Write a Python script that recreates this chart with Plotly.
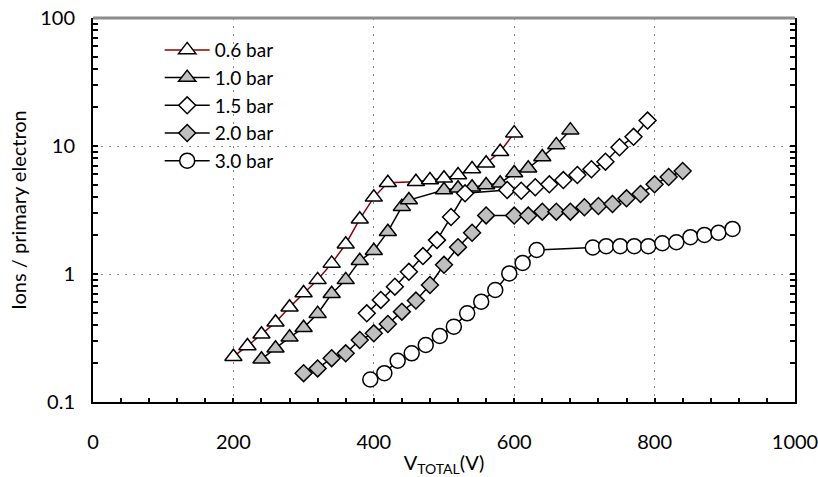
import plotly.graph_objects as go

# Voltage (V) and ions per primary electron for each gas pressure
v_06 = [200, 220, 240, 260, 280, 300, 320, 340, 360, 380, 400, 420,
        460, 480, 500, 520, 540, 560, 580, 600]
g_06 = [0.226, 0.274, 0.338, 0.42, 0.55, 0.71, 0.90, 1.21, 1.71, 2.68, 3.97, 5.17,
        5.26, 5.42, 5.59, 5.94, 6.61, 7.33, 9.02, 12.6]

v_10 = [240, 260, 280, 300, 320, 340, 360, 380, 400, 420, 440, 450,
        500, 520, 540, 560, 580, 600, 620, 640, 660, 680]
g_10 = [0.216, 0.263, 0.32, 0.38, 0.49, 0.70, 0.90, 1.27, 1.52, 2.14, 3.36, 3.78,
        4.53, 4.67, 4.76, 4.96, 5.11, 6.16, 6.7, 8.2, 10.2, 13.3]

v_15 = [390, 410, 430, 450, 470, 490, 510, 530,
        590, 610, 630, 650, 670, 690, 710, 730, 750, 770, 790]
g_15 = [0.493, 0.627, 0.796, 1.04, 1.38, 1.84, 2.79, 4.27,
        4.53, 4.47, 4.76, 5.02, 5.42, 5.94, 6.58, 7.54, 9.77, 11.8, 15.8]

v_20 = [300, 320, 340, 360, 380, 400, 420, 440, 460, 480, 500, 520, 540, 560,
        600, 620, 640, 660, 680, 700, 720, 740, 760, 780, 800, 820, 840]
g_20 = [0.168, 0.183, 0.22, 0.24, 0.305, 0.344, 0.407, 0.508, 0.62, 0.82, 1.18, 1.62, 2.1, 2.87,
        2.86, 2.86, 3.07, 3.07, 3.07, 3.32, 3.40, 3.52, 3.90, 4.22, 5.02, 5.73, 6.38]

v_30 = [395, 415, 434, 454, 474, 494, 514, 533, 553, 573, 593, 612, 632,
        712, 731, 751, 771, 791, 811, 831, 851, 871, 891, 911]
g_30 = [0.150, 0.168, 0.21, 0.24, 0.279, 0.328, 0.388, 0.493, 0.608, 0.75, 1.01, 1.22, 1.54,
        1.61, 1.65, 1.65, 1.65, 1.65, 1.74, 1.77, 1.94, 2.02, 2.10, 2.25]

labels = ["0.6 bar", "1.0 bar", "1.5 bar", "2.0 bar", "3.0 bar"]
x_ticks = [0, 200, 400, 600, 800, 1000]
y_ticks = [0.1, 1, 10, 100]
y_ticktext = ["0.1", "1", "10", "100"]

FONT = "Lato"
FS = 20
GRAY = "#bfbfbf"

series = [
    (v_06, g_06, "triangle-up", "white", "#8b0000", 15),
    (v_10, g_10, "triangle-up", GRAY, "black", 15),
    (v_15, g_15, "diamond", "white", "black", 13),
    (v_20, g_20, "diamond", GRAY, "black", 13),
    (v_30, g_30, "circle", "white", "black", 15),
]

fig = go.Figure()
for i, (vx, gy, sym, fill, lc, ms) in enumerate(series):
    fig.add_trace(go.Scatter(
        x=vx, y=gy, name=labels[i], legendgroup=labels[i],
        mode="lines+markers",
        line=dict(color=lc, width=1.5),
        marker=dict(symbol=sym, size=ms, color=fill,
                    line=dict(color="black", width=1.5)),
    ))

fig.update_layout(
    width=818, height=477,
    margin=dict(l=93, r=23, t=18, b=75, autoexpand=False),
    paper_bgcolor="white", plot_bgcolor="white",
    font=dict(family=FONT, size=FS, color="black"),
    showlegend=True,
    legend=dict(x=0.095, y=0.966, xanchor="left", yanchor="top",
                bgcolor="rgba(0,0,0,0)", tracegroupgap=0, itemwidth=45,
                font=dict(family=FONT, size=19)),
    xaxis=dict(
        range=[0, 1000], tickvals=x_ticks, automargin=False,
        ticklabeloverflow="allow",
        ticks="inside", ticklen=4, tickwidth=1.5, tickcolor="black",
        minor=dict(dtick=40, ticks="inside", ticklen=4, tickwidth=1.5,
                   tickcolor="black", showgrid=False),
        showgrid=True, gridcolor="#8c8c8c", gridwidth=1, griddash="2px,6px",
        showline=True, linecolor="black", linewidth=2, mirror=False,
        zeroline=False, ticklabelstandoff=21,
        title=dict(text="V<sub>TOTAL</sub>(V)", standoff=4,
                   font=dict(family=FONT, size=FS)),
    ),
    yaxis=dict(
        type="log", range=[-1, 2], automargin=False,
        ticklabeloverflow="allow",
        tickvals=y_ticks, ticktext=y_ticktext,
        ticks="inside", ticklen=5, tickwidth=1.5, tickcolor="black",
        minor=dict(dtick="D1", ticks="inside", ticklen=5, tickwidth=1.5,
                   tickcolor="black", showgrid=False),
        showgrid=True, gridcolor="#8c8c8c", gridwidth=1, griddash="2px,6px",
        showline=True, linecolor="black", linewidth=2, mirror="ticks",
        zeroline=False, ticklabelstandoff=12,
        title=dict(text="Ions / primary electron", standoff=8,
                   font=dict(family=FONT, size=FS)),
    ),
    shapes=[dict(type="line", xref="paper", yref="paper", x0=0, x1=1, y0=1, y1=1,
                 line=dict(color="#8c8c8c", width=3), layer="above")],
)

fig.write_html("out.html")
